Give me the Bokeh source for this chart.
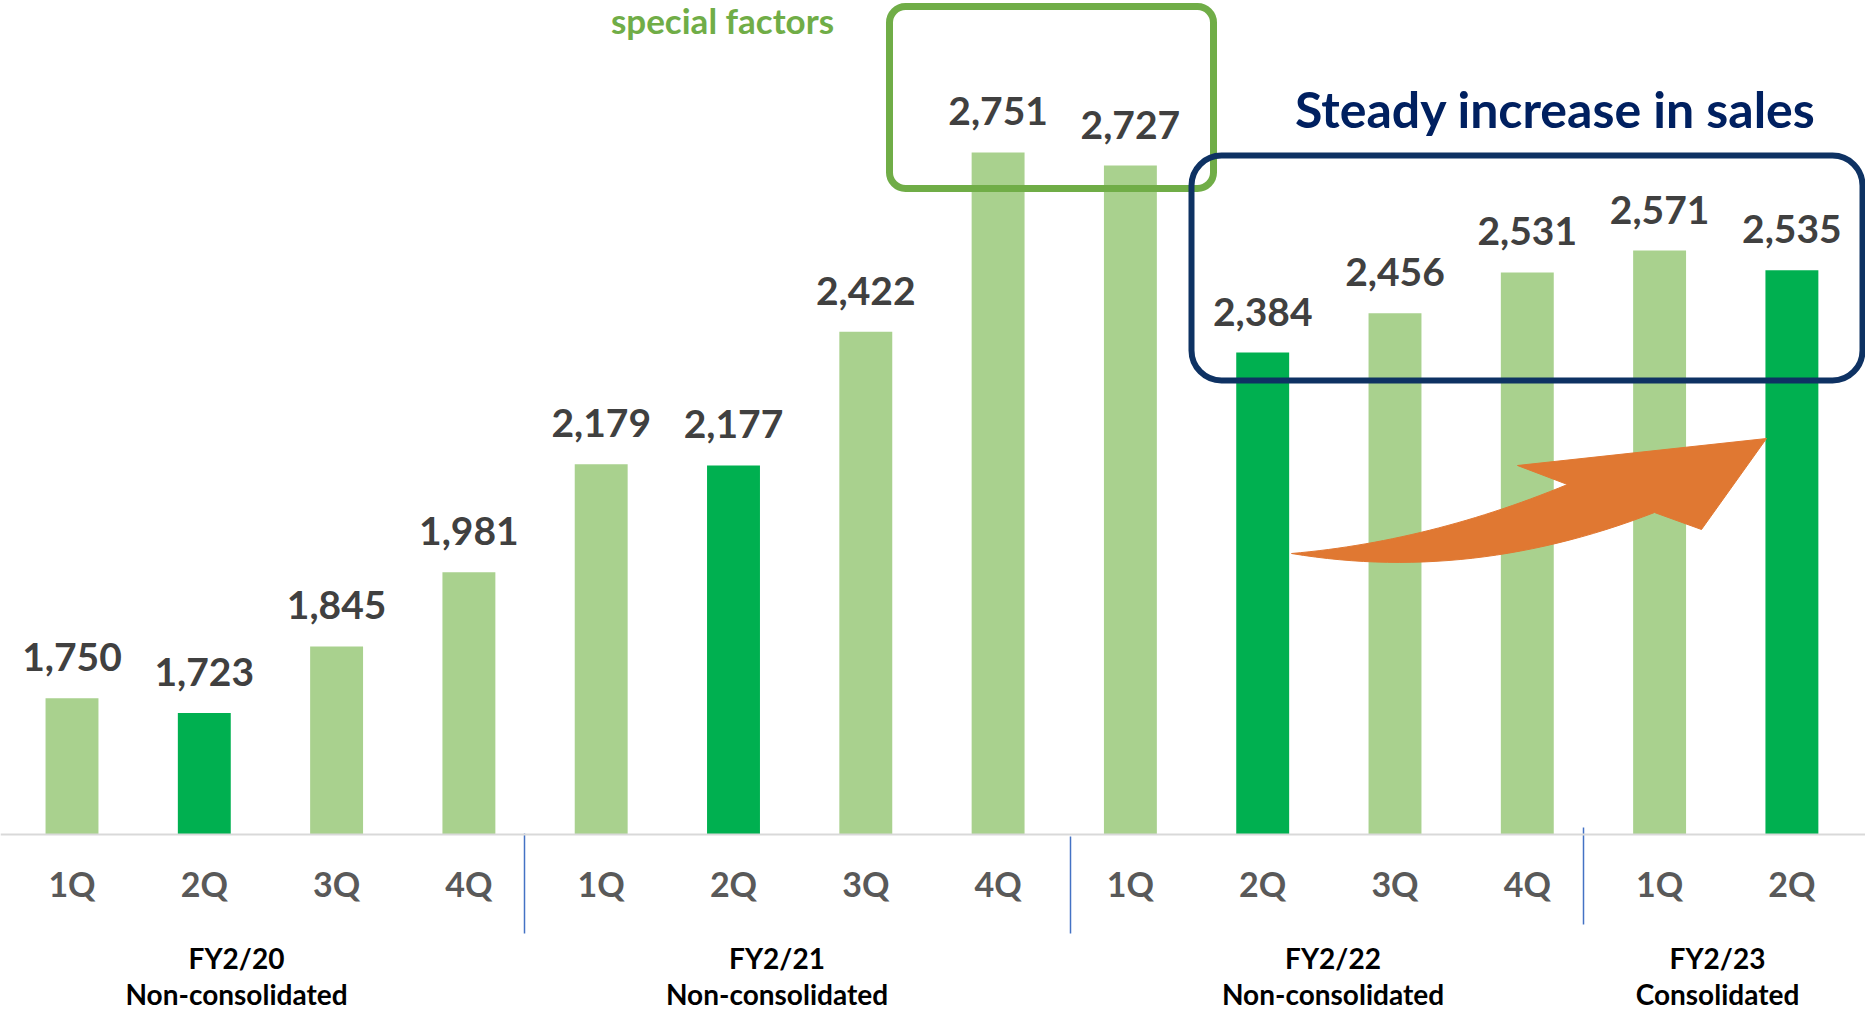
from bokeh.plotting import figure
from bokeh.models import ColumnDataSource, BoxAnnotation, Span, Range1d
from bokeh.core.properties import value
from bokeh.embed import file_html
from bokeh.resources import INLINE

# ---------------- data ----------------
quarters = ["1Q", "2Q", "3Q", "4Q", "1Q", "2Q", "3Q", "4Q",
            "1Q", "2Q", "3Q", "4Q", "1Q", "2Q"]
sales = [1750, 1723, 1845, 1981, 2179, 2177, 2422, 2751,
         2727, 2384, 2456, 2531, 2571, 2535]
fiscal_years = ["FY2/20", "FY2/21", "FY2/22", "FY2/23"]
scopes = ["Non-consolidated", "Non-consolidated", "Non-consolidated", "Consolidated"]
note_special = "special factors"
note_steady = "Steady increase in sales"
Y_FLOOR = 1500

# ---------------- layout (reference page pixels) ----------------
W, H = 1865, 1010
X0_PX, STEP_PX = 71.5, 132.3
BASE_PX, PX_PER_UNIT = 834.0, 0.5452


def dx(px):
    return (px - X0_PX) / STEP_PX


def dy(py):
    return Y_FLOOR + (BASE_PX - py) / PX_PER_UNIT


FONT = value("Lato")
LIGHT = "#A9D18E"
DARK = "#00B050"

p = figure(width=W, height=H,
           x_range=Range1d(dx(0), dx(W)),
           y_range=Range1d(dy(H), dy(0)),
           output_backend="svg", toolbar_location=None,
           x_axis_location=None, y_axis_location=None,
           min_border=0, outline_line_color=None,
           background_fill_color="white", border_fill_color="white")
p.xgrid.visible = False
p.ygrid.visible = False

idx = list(range(len(sales)))
src = ColumnDataSource(dict(
    x=idx, top=sales, q=quarters,
    color=[DARK if q == "2Q" else LIGHT for q in quarters],
    label=[f"{v:,}" for v in sales],
))

p.vbar(x="x", top="top", bottom=Y_FLOOR, width=0.4, fill_color="color",
       line_color=None, source=src)

p.add_layout(Span(location=Y_FLOOR, dimension="width", line_color="#D9D9D9",
                  line_width=2))

# value labels
p.text(x="x", y="top", text="label", source=src, text_font=FONT,
       text_font_style="bold", text_font_size="39px", text_color="#404040",
       text_align="center", text_baseline="alphabetic", y_offset=-41)

# quarter labels
p.text(x="x", y=Y_FLOOR, text="q", source=src, text_font=FONT,
       text_font_style="bold", text_font_size="34px", text_color="#595959",
       text_align="center", text_baseline="alphabetic", y_offset=49)

# fiscal year group labels
group_px = [236, 776.5, 1332.5, 1717]
gsrc = ColumnDataSource(dict(x=[dx(v) for v in group_px], fy=fiscal_years, sc=scopes))
p.text(x="x", y=Y_FLOOR, text="fy", source=gsrc, text_font=FONT,
       text_font_style="bold", text_font_size="28px", text_color="#000000",
       text_align="center", text_baseline="alphabetic", y_offset=123)
p.text(x="x", y=Y_FLOOR, text="sc", source=gsrc, text_font=FONT,
       text_font_style="bold", text_font_size="28px", text_color="#000000",
       text_align="center", text_baseline="alphabetic", y_offset=159)

# group separators
sep_x = [524, 1070, 1583]
sep_top = [833, 836, 827]
sep_bot = [933, 933, 924]
p.segment(x0=[dx(v) for v in sep_x], x1=[dx(v) for v in sep_x],
          y0=[dy(v) for v in sep_top], y1=[dy(v) for v in sep_bot],
          line_color="#4472C4", line_width=1.5)


# orange curved arrow
def qbez(p0, c, p2, n=30):
    pts = []
    for i in range(n + 1):
        t = i / n
        a, b, d = (1 - t) ** 2, 2 * t * (1 - t), t ** 2
        pts.append((a * p0[0] + b * c[0] + d * p2[0], a * p0[1] + b * c[1] + d * p2[1]))
    return pts


tail = (1291, 553)
notch_up = (1567, 484)
barb_up = (1517, 465)
tip = (1766, 438)
barb_low = (1701, 529)
notch_low = (1654, 512)
outline = qbez(tail, (1429, 541), notch_up)
outline += [barb_up, tip, barb_low]
outline += qbez(notch_low, (1471, 583), tail)
p.patch(x=[dx(a) for a, b in outline], y=[dy(b) for a, b in outline],
        fill_color="#E07832", line_color="#E07832", line_width=1)

# rounded boxes
p.add_layout(BoxAnnotation(left=dx(889), right=dx(1213), top=dy(6), bottom=dy(188),
                           fill_color=None, fill_alpha=0, line_color="#70AD47",
                           line_alpha=1.0, line_width=7, border_radius=16))
p.add_layout(BoxAnnotation(left=dx(1191), right=dx(1862), top=dy(155), bottom=dy(380),
                           fill_color=None, fill_alpha=0, line_color="#0E3263",
                           line_alpha=1.0, line_width=6, border_radius=30))

# callout texts
p.text(x=[dx(722)], y=[dy(19)], text=[note_special], text_font=FONT,
       text_font_style="bold", text_font_size="35px", text_color="#70AD47",
       text_align="center", text_baseline="alphabetic")
p.text(x=[dx(1555)], y=[dy(108)], text=[note_steady], text_font=FONT,
       text_font_style="bold", text_font_size="50px", text_color="#002060",
       text_align="center", text_baseline="alphabetic")

open("out.html", "w").write(file_html(p, INLINE))
